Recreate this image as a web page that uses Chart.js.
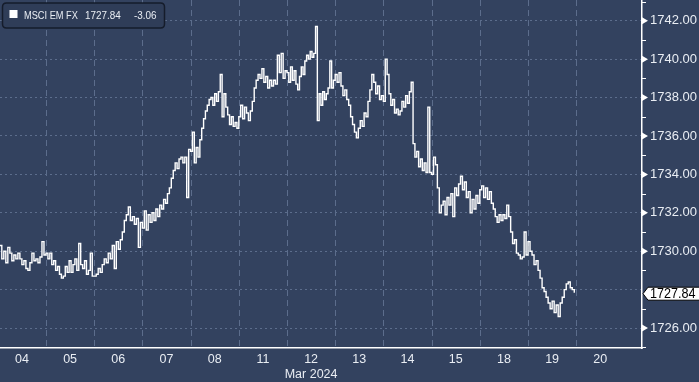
<!DOCTYPE html>
<html>
<head>
<meta charset="utf-8">
<script src="https://cdn.jsdelivr.net/npm/chart.js@4/dist/chart.umd.min.js"></script>
<style>
  html, body { margin: 0; padding: 0; background: #33425f; }
  #wrap { width: 699px; height: 382px; }
  canvas { display: block; }
</style>
</head>
<body>
<div id="wrap"><canvas id="c" width="699" height="382"></canvas></div>
<script>
// ---- data ----
const seriesName = 'MSCI EM FX';
const lastChange = -3.06;
const dayLabels = ['04','05','06','07','08','11','12','13','14','15','18','19','20'];
const monthLabel = 'Mar 2024';
const yTicks = [1726, 1728, 1730, 1732, 1734, 1736, 1738, 1740, 1742];

const d04 = [1729.8,1730.3,1729.6,1730.0,1729.4,1730.2,1729.9,1729.5,1729.8,1729.6,1729.9,1729.6,1729.3,1729.5,1729.1,1729.0,1729.4,1729.9,1729.5,1729.6,1729.4,1729.7,1730.5,1729.8];
const d05 = [1729.9,1729.6,1729.9,1729.3,1729.5,1729.0,1729.2,1728.8,1728.6,1728.7,1729.2,1728.9,1729.5,1728.9,1729.3,1729.6,1729.0,1730.4,1729.3,1729.1,1729.5,1728.8,1729.0,1729.9,1728.7];
const d06 = [1728.7,1728.8,1729.1,1728.9,1729.3,1729.6,1729.4,1729.9,1729.6,1730.3,1729.1,1730.5,1730.1,1730.6,1731.0,1731.6,1731.9,1732.3,1731.6,1731.8,1731.4,1731.7,1730.2,1731.5];
const d07 = [1731.2,1732.1,1731.1,1731.9,1731.5,1732.0,1731.6,1732.2,1731.8,1732.4,1732.2,1732.7,1732.5,1733.0,1733.3,1733.8,1734.2,1734.6,1734.3,1734.8,1734.9,1734.6,1734.9,1732.8,1735.3];
const d08 = [1735.2,1736.2,1734.6,1735.4,1734.9,1735.8,1736.4,1736.9,1737.3,1737.6,1737.9,1738.0,1737.6,1738.2,1737.8,1738.3,1739.2,1737.0,1738.2,1737.5,1737.1,1736.6,1737.0,1736.5,1736.7,1736.4];
const d11 = [1737.0,1737.6,1736.9,1737.5,1737.2,1736.8,1737.3,1737.8,1738.5,1738.9,1739.2,1739.0,1739.5,1738.8,1739.1,1738.5,1738.9,1738.6,1738.9,1738.7,1740.2,1739.3,1740.3,1739.0,1739.4];
const d12 = [1739.3,1738.8,1739.6,1738.9,1739.4,1738.7,1738.4,1739.1,1739.6,1739.2,1739.9,1740.2,1740.0,1740.4,1740.1,1740.3,1741.7,1736.8,1738.2,1737.6,1738.3,1737.9,1738.2,1738.5,1739.9,1738.5,1738.9];
const d13 = [1739.2,1738.8,1739.3,1738.6,1738.1,1738.4,1737.9,1737.6,1737.0,1736.6,1736.2,1735.9,1736.4,1736.8,1736.5,1737.2,1737.0,1737.8,1738.4,1739.2,1738.8,1738.2,1738.6,1737.9,1738.1];
const d14 = [1737.8,1740.0,1739.2,1738.2,1737.6,1737.9,1737.2,1737.4,1737.1,1737.3,1737.8,1737.5,1738.1,1737.7,1738.3,1738.8,1735.6,1734.9,1735.2,1734.4,1734.8,1734.2,1734.6,1734.1,1737.5,1734.1];
const d15 = [1734.0,1734.9,1734.5,1733.3,1732.0,1732.4,1732.6,1731.9,1732.8,1732.4,1733.0,1731.8,1733.3,1732.9,1733.5,1733.9,1733.2,1733.6,1732.8,1733.1,1732.0,1732.7,1732.2,1732.9,1732.5];
const d18 = [1733.2,1733.4,1732.8,1733.3,1732.7,1733.1,1732.5,1732.2,1731.8,1731.5,1731.9,1731.6,1731.9,1731.7,1732.4,1731.8,1731.0,1730.4,1730.6,1729.9,1729.8,1729.6,1729.7,1731.0,1729.8];
const d19 = [1730.5,1730.0,1729.8,1729.3,1729.5,1729.0,1728.6,1728.1,1727.9,1727.6,1727.3,1727.0,1727.4,1726.8,1727.2,1726.6,1727.3,1727.6,1728.0,1728.3,1728.4,1728.1,1728.0,1727.84];
const lastDayCoverage = 0.96; // fraction of the last trading day shown

const dayData = [d04, d05, d06, d07, d08, d11, d12, d13, d14, d15, d18, d19];

// ---- build points (x in trading-day index units) ----
const points = [];
dayData.forEach((arr, k) => {
  const isLast = k === dayData.length - 1;
  arr.forEach((v, i) => {
    const x = isLast ? k + (i / (arr.length - 1)) * lastDayCoverage : k + i / arr.length;
    points.push({ x, y: v });
  });
});
const lastValue = points[points.length - 1].y;

const FONT = "'Liberation Sans', Arial, sans-serif";
const TEXT = '#e9edf3';
const GRID = '#5c6d8c';
const BG = '#33425f';

const bgPlugin = {
  id: 'bg',
  beforeDraw(chart) {
    const ctx = chart.ctx;
    ctx.save();
    ctx.fillStyle = BG;
    ctx.fillRect(0, 0, chart.width, chart.height);
    ctx.restore();
  }
};

const vGridPlugin = {
  id: 'vgrid',
  beforeDatasetsDraw(chart) {
    const { ctx, chartArea, scales } = chart;
    ctx.save();
    ctx.strokeStyle = GRID;
    ctx.lineWidth = 1;
    ctx.setLineDash([6, 4]);
    for (let k = 1; k < dayLabels.length; k++) {
      const x = Math.round(scales.x.getPixelForValue(k)) + 0.5;
      ctx.beginPath();
      ctx.moveTo(x, chartArea.top);
      ctx.lineTo(x, chartArea.bottom);
      ctx.stroke();
    }
    ctx.restore();
  }
};

function condensedText(ctx, text, x, y, sx) {
  ctx.save();
  ctx.translate(x, y);
  ctx.scale(sx, 1);
  ctx.fillText(text, 0, 0);
  ctx.restore();
}

const decorPlugin = {
  id: 'decor',
  afterDraw(chart) {
    const { ctx, chartArea, scales } = chart;
    const ys = scales.y;
    const x0 = chartArea.right;
    ctx.save();
    // right-axis markers
    ctx.fillStyle = '#ffffff';
    ctx.strokeStyle = '#ffffff';
    ctx.lineWidth = 1;
    for (let v = Math.ceil(ys.min); v <= Math.floor(ys.max); v++) {
      const y = ys.getPixelForValue(v);
      if (v % 2 === 0) {
        if (v === 1728) continue;
        ctx.beginPath();
        ctx.moveTo(x0, y - 3.5);
        ctx.lineTo(x0 + 6, y);
        ctx.lineTo(x0, y + 3.5);
        ctx.closePath();
        ctx.fill();
      } else {
        ctx.beginPath();
        ctx.moveTo(x0, Math.round(y) + 0.5);
        ctx.lineTo(x0 + 4, Math.round(y) + 0.5);
        ctx.stroke();
      }
    }
    // last value tag
    const ly = ys.getPixelForValue(lastValue) + 1;
    const h = 13;
    ctx.beginPath();
    ctx.moveTo(x0 + 1, ly);
    ctx.lineTo(x0 + 6, ly - h / 2);
    ctx.lineTo(chart.width + 2, ly - h / 2);
    ctx.lineTo(chart.width + 2, ly + h / 2);
    ctx.lineTo(x0 + 6, ly + h / 2);
    ctx.closePath();
    ctx.fillStyle = '#ffffff';
    ctx.fill();
    ctx.strokeStyle = '#000000';
    ctx.stroke();
    ctx.fillStyle = '#000000';
    ctx.font = '14px ' + FONT;
    ctx.textBaseline = 'middle';
    ctx.textAlign = 'left';
    condensedText(ctx, lastValue.toFixed(2), x0 + 8, ly + 0.5, 0.9);

    // legend box
    const bx = 2.5, by = 3, bw = 162, bh = 25, r = 4;
    ctx.beginPath();
    ctx.moveTo(bx + r, by);
    ctx.lineTo(bx + bw - r, by);
    ctx.quadraticCurveTo(bx + bw, by, bx + bw, by + r);
    ctx.lineTo(bx + bw, by + bh - r);
    ctx.quadraticCurveTo(bx + bw, by + bh, bx + bw - r, by + bh);
    ctx.lineTo(bx + r, by + bh);
    ctx.quadraticCurveTo(bx, by + bh, bx, by + bh - r);
    ctx.lineTo(bx, by + r);
    ctx.quadraticCurveTo(bx, by, bx + r, by);
    ctx.closePath();
    ctx.fillStyle = '#2f3d58';
    ctx.fill();
    ctx.strokeStyle = '#151c2b';
    ctx.lineWidth = 1.5;
    ctx.stroke();
    ctx.fillStyle = '#ffffff';
    ctx.fillRect(9.5, 10, 8, 8);
    ctx.fillStyle = TEXT;
    ctx.font = '11px ' + FONT;
    ctx.textBaseline = 'middle';
    ctx.textAlign = 'left';
    condensedText(ctx, seriesName, 24, 15.5, 0.84);
    condensedText(ctx, lastValue.toFixed(2), 85, 15.5, 0.9);
    condensedText(ctx, lastChange.toFixed(2), 134, 15.5, 0.9);
    ctx.restore();
  }
};

new Chart(document.getElementById('c'), {
  type: 'line',
  data: {
    datasets: [{
      data: points,
      borderColor: '#ffffff',
      borderWidth: 1.4,
      pointRadius: 0,
      stepped: true,
      fill: false
    }]
  },
  options: {
    responsive: false,
    animation: false,
    devicePixelRatio: 1,
    layout: { padding: 0 },
    plugins: { legend: { display: false }, tooltip: { enabled: false } },
    scales: {
      x: {
        type: 'linear',
        min: 0.046,
        max: 13.365,
        afterBuildTicks(scale) {
          scale.ticks = dayLabels.map((_, k) => ({ value: k + 0.5 }));
        },
        afterFit(scale) {
          scale.height = 34;
          scale.paddingLeft = 0; scale.paddingRight = 0;
        },
        grid: { display: false, drawTicks: false },
        border: { display: true, color: '#ffffff', width: 1.5 },
        ticks: {
          autoSkip: false,
          maxRotation: 0,
          padding: 4,
          color: TEXT,
          font: { family: FONT, size: 12.5, lineHeight: 1.2 },
          callback(v) {
            const lab = dayLabels[Math.floor(v)];
            return lab === '12' ? [lab, monthLabel] : lab;
          }
        }
      },
      y: {
        position: 'right',
        min: 1724.96,
        max: 1743.08,
        afterBuildTicks(scale) {
          scale.ticks = yTicks.map(v => ({ value: v }));
        },
        afterFit(scale) {
          scale.width = 57;
          scale.paddingTop = 0; scale.paddingBottom = 0;
        },
        grid: { color: GRID, lineWidth: 1, drawTicks: false },
        border: { display: true, color: '#ffffff', width: 1.5, dash: [2, 3] },
        ticks: {
          padding: 8,
          color: TEXT,
          font: { family: FONT, size: 13 },
          callback(v) { return v === 1728 ? '' : Number(v).toFixed(2); }
        }
      }
    }
  },
  plugins: [bgPlugin, vGridPlugin, decorPlugin]
});
</script>
</body>
</html>
